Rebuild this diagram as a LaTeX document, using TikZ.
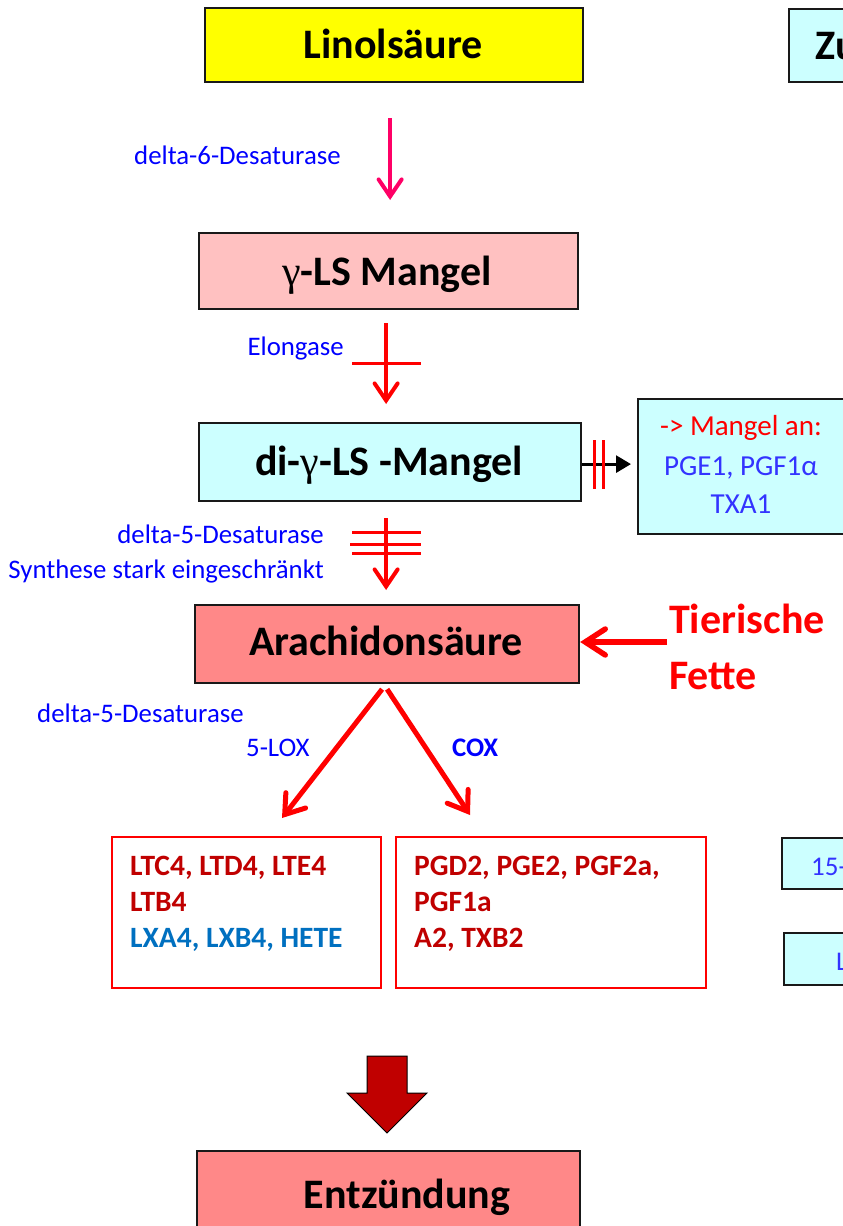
\documentclass[tikz,border=0pt]{standalone}
\usepackage{fontspec}
\setmainfont{Carlito}
\newfontfamily\grk{Liberation Serif}
\usetikzlibrary{arrows.meta,calc}
\definecolor{boxyellow}{HTML}{FFFF00}
\definecolor{boxcyan}{HTML}{CCFFFF}
\definecolor{boxpink}{HTML}{FFC1C1}
\definecolor{boxsalmon}{HTML}{FF8888}
\definecolor{labblue}{HTML}{0000FF}
\definecolor{softblue}{HTML}{3333FF}
\definecolor{darkred}{HTML}{C00000}
\definecolor{midblue}{HTML}{0070C0}
\definecolor{arrpink}{HTML}{FF0066}
\begin{document}
\begin{tikzpicture}[x=1pt,y=-1pt,
  box/.style={draw=black!90, line width=2.2pt, inner sep=0pt, anchor=north west},
  redbox/.style={draw=red, line width=2pt, fill=white, inner sep=0pt, anchor=north west},
  title/.style={inner sep=0pt, anchor=base, font=\fontsize{42}{50}\selectfont\bfseries},
  lab/.style={inner sep=0pt, text=labblue, font=\fontsize{26.8}{32}\selectfont},
  mtext/.style={inner sep=0pt, anchor=base, font=\fontsize{29}{35}\selectfont},
  ltext/.style={inner sep=0pt, anchor=base west, font=\fontsize{29.5}{35}\selectfont\bfseries},
  barb/.style={-{Straight Barb[length=17pt,width=23pt,line cap=round]}},
  redarr/.style={draw=red, line width=4pt, barb},
  bar/.style={draw=red, line width=3pt},
]
\useasboundingbox (0,0) rectangle (843,1226);
\clip (0,0) rectangle (843,1226);

% boxes
\node[box, fill=boxyellow, minimum width=378pt, minimum height=74pt] (lin) at (204,7) {};
\node[title] (lint) at (393,58) {Linolsäure};
\node[box, fill=boxcyan, minimum width=100pt, minimum height=73pt] (zu) at (788,8) {};
\node[title, anchor=base west] (zut) at (815,59) {Zu};

\node[box, fill=boxpink, minimum width=379pt, minimum height=76pt] (gls) at (198,232) {};
\node[title] (glst) at (387,285) {{\grk\mdseries γ}-LS Mangel};

\node[box, fill=boxcyan, minimum width=382pt, minimum height=78pt] (dig) at (198,422) {};
\node[title] (digt) at (389,475) {di-{\grk\mdseries γ}-LS -Mangel};

\node[box, fill=boxcyan, minimum width=210pt, minimum height=135pt] (man) at (637,398) {};
\node[mtext, text=red] (man1) at (741,435) {-> Mangel an:};
\node[mtext, text=softblue] (man2) at (741,475) {PGE1, PGF1α};
\node[mtext, text=softblue] (man3) at (741,513) {TXA1};

\node[box, fill=boxsalmon, minimum width=384pt, minimum height=78pt] (ara) at (194,604) {};
\node[title] (arat) at (386,655) {Arachidonsäure};

\node[title, anchor=base west, text=red] (tier) at (669,633) {Tierische};
\node[title, anchor=base west, text=red] (fett) at (669,689) {Fette};

\node[redbox, minimum width=269pt, minimum height=151pt] (lt) at (111,836) {};
\node[ltext, text=darkred] (lt1) at (130,875) {LTC4, LTD4, LTE4};
\node[ltext, text=darkred] (lt2) at (130,911) {LTB4};
\node[ltext, text=midblue] (lt3) at (130,947) {LXA4, LXB4, HETE};

\node[redbox, minimum width=310pt, minimum height=151pt] (pg) at (395,836) {};
\node[ltext, text=darkred] (pg1) at (414,875) {PGD2, PGE2, PGF2a,};
\node[ltext, text=darkred] (pg2) at (414,911) {PGF1a};
\node[ltext, text=darkred] (pg3) at (414,947) {A2, TXB2};

\node[box, fill=boxcyan, minimum width=100pt, minimum height=51pt] (b15) at (781,837) {};
\node[mtext, anchor=base west, text=softblue, font=\fontsize{27}{32}\selectfont] (b15t) at (811,875) {15-};
\node[box, fill=boxcyan, minimum width=100pt, minimum height=52pt] (bl) at (783,932) {};
\node[mtext, anchor=base west, text=softblue, font=\fontsize{27}{32}\selectfont] (blt) at (836,970) {L};

\node[box, fill=boxsalmon, minimum width=383pt, minimum height=100pt] (ent) at (196,1150) {};
\node[title] (entt) at (407,1208) {Entzündung};

% labels
\node[lab, anchor=base west] (d6) at (134,164) {delta-6-Desaturase};
\node[lab, anchor=base east] (elo) at (344,355) {Elongase};
\node[lab, anchor=base east] (d5a) at (324,543) {delta-5-Desaturase};
\node[lab, anchor=base east] (syn) at (324,578) {Synthese stark eingeschränkt};
\node[lab, anchor=base west] (d5b) at (37,722) {delta-5-Desaturase};
\node[lab, anchor=base west] (lox) at (246,756) {5-LOX};
\node[lab, anchor=base west, font=\fontsize{26.8}{32}\selectfont\bfseries] (cox) at (452,756) {COX};

% arrows
\coordinate (a1s) at ($(lin.south)+(-4,35)$);
\coordinate (a1e) at ($(gls.north)+(1.5,-32)$);
\draw[draw=arrpink, line width=4pt, barb] (a1s) -- (a1e);

\coordinate (a2s) at ($(gls.south)+(-2.5,13)$);
\coordinate (a2e) at ($(dig.north)+(-4,-18)$);
\draw[redarr] (a2s) -- (a2e);
\draw[bar] (352,363) -- (421,363);

\coordinate (a3s) at ($(dig.south)+(-4,16)$);
\coordinate (a3e) at ($(ara.north)+(-1,-14)$);
\draw[redarr] (a3s) -- (a3e);
\draw[bar] (352,532) -- (421,532);
\draw[bar] (350,544) -- (421,544);
\draw[bar] (352,553) -- (421,553);

\coordinate (a4s) at ($(dig.east)+(0,2)$);
\coordinate (a4e) at ($(man.west)+(-6,-2.5)$);
\draw[draw=black, line width=2.8pt, -{Triangle[length=15pt,width=17pt]}] (a4s) -- (a4e);
\draw[bar] (594,440) -- (594,489);
\draw[bar] (603,440) -- (603,489);

\coordinate (a5s) at ($(tier.base west)+(-2,9)$);
\draw[draw=red, line width=5.5pt, -{Straight Barb[length=20pt,width=26pt,line cap=round]}] (a5s) -- (ara.east |- a5s);

\coordinate (apl) at ($(ara.south)+(-5,5)$);
\coordinate (apr) at ($(ara.south)+(0,5)$);
\coordinate (tl) at (282,818);
\coordinate (tr) at (470,815);
\draw[draw=red, line width=5pt, -{Straight Barb[length=18pt,width=25pt,line cap=round]}] (apl) -- (tl);
\draw[draw=red, line width=5pt, -{Straight Barb[length=18pt,width=25pt,line cap=round]}] (apr) -- (tr);

% block arrow
\draw[fill=darkred, draw=black, line width=1pt, line join=miter]
  (367,1056) -- (407,1056) -- (407,1093) -- (427,1093) -- (387,1133) -- (347,1093) -- (367,1093) -- cycle;
\end{tikzpicture}
\end{document}
